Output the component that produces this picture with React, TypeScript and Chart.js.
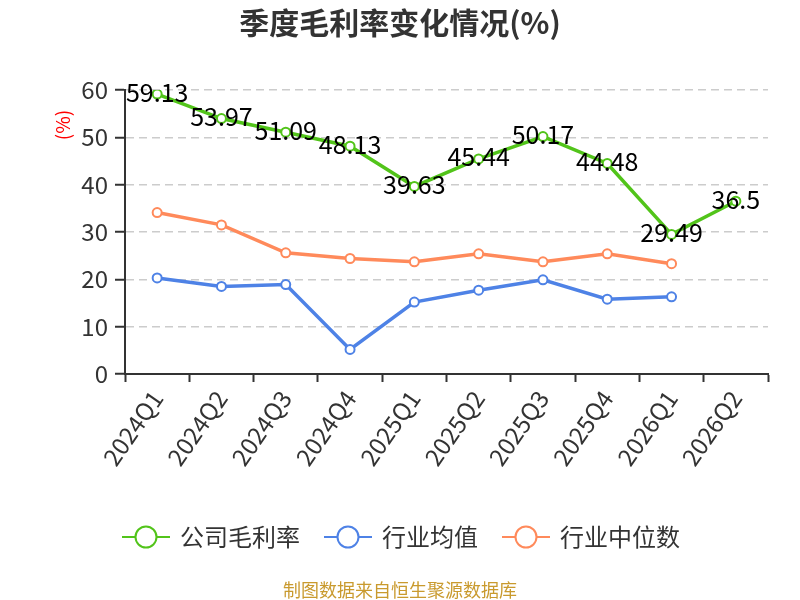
import { useEffect, useRef } from "react";
import { Chart, registerables } from "chart.js";

Chart.register(...registerables);

const FONT = '"Noto Sans CJK SC", "Noto Sans", sans-serif';

const quarters = [
  "2024Q1", "2024Q2", "2024Q3", "2024Q4", "2025Q1",
  "2025Q2", "2025Q3", "2025Q4", "2026Q1", "2026Q2",
];
const companyMargin = [59.13, 53.97, 51.09, 48.13, 39.63, 45.44, 50.17, 44.48, 29.49, 36.5];
const industryAvg = [20.3, 18.5, 18.9, 5.2, 15.2, 17.7, 19.9, 15.8, 16.3, null];
const industryMedian = [34.1, 31.5, 25.6, 24.4, 23.7, 25.4, 23.7, 25.4, 23.3, null];
const yTicks = { min: 0, max: 60, step: 10 };

const GREEN = "#52c41a";
const BLUE = "#4e82e6";
const ORANGE = "#ff8a5b";

function line(label: string, data: (number | null)[], color: string) {
  return {
    label,
    data,
    borderColor: color,
    backgroundColor: "#fff",
    borderWidth: 3.5,
    pointRadius: 4.5,
    pointBorderWidth: 2,
    pointBackgroundColor: "#fff",
    pointBorderColor: color,
    tension: 0,
    spanGaps: false,
  };
}

const overlay = {
  id: "overlay",
  afterDatasetsDraw(chart: any) {
    const ctx = chart.ctx;
    const meta = chart.getDatasetMeta(0);
    ctx.save();
    ctx.font = `25px ${FONT}`;
    ctx.fillStyle = "#000";
    ctx.textAlign = "center";
    ctx.textBaseline = "middle";
    meta.data.forEach((pt: any, i: number) => {
      ctx.fillText(String(companyMargin[i]), pt.x, pt.y - 2);
    });
    ctx.restore();
  },
  afterDraw(chart: any) {
    const ctx = chart.ctx;
    ctx.save();

    // title
    ctx.font = `bold 30px ${FONT}`;
    ctx.fillStyle = "#333";
    ctx.textAlign = "center";
    ctx.textBaseline = "middle";
    ctx.fillText("季度毛利率变化情况(%)", 400, 23);

    // y axis unit
    ctx.save();
    ctx.translate(63, 125);
    ctx.rotate(-Math.PI / 2);
    ctx.font = `19px ${FONT}`;
    ctx.fillStyle = "#ff0000";
    ctx.fillText("(%)", 0, 0);
    ctx.restore();

    // legend
    ctx.font = `24px ${FONT}`;
    ctx.textAlign = "left";
    const items = chart.data.datasets.map((d: any) => ({
      label: d.label,
      color: d.borderColor,
      w: 48 + 10 + ctx.measureText(d.label).width,
    }));
    const gap = 24;
    const total = items.reduce((s: number, it: any) => s + it.w, 0) + gap * (items.length - 1);
    let x = 401 - total / 2;
    const ly = 537;
    items.forEach((it: any) => {
      ctx.strokeStyle = it.color;
      ctx.lineWidth = 2;
      ctx.beginPath();
      ctx.moveTo(x, ly);
      ctx.lineTo(x + 48, ly);
      ctx.stroke();
      ctx.beginPath();
      ctx.arc(x + 24, ly, 10.5, 0, Math.PI * 2);
      ctx.fillStyle = "#fff";
      ctx.fill();
      ctx.stroke();
      ctx.fillStyle = "#333";
      ctx.fillText(it.label, x + 58, ly);
      x += it.w + gap;
    });

    // footer
    ctx.font = `18px ${FONT}`;
    ctx.textAlign = "center";
    ctx.fillStyle = "#c99a2e";
    ctx.fillText("制图数据来自恒生聚源数据库", 400, 590);

    ctx.restore();
  },
};

export default function App() {
  const canvasRef = useRef<HTMLCanvasElement>(null);
  const chartRef = useRef<Chart | null>(null);

  useEffect(() => {
    document.body.style.margin = "0";
    if (!canvasRef.current) return;
    chartRef.current?.destroy();

    chartRef.current = new Chart(canvasRef.current, {
      type: "line",
      data: {
        labels: quarters,
        datasets: [
          line("公司毛利率", companyMargin, GREEN),
          line("行业均值", industryAvg, BLUE),
          line("行业中位数", industryMedian, ORANGE),
        ] as any,
      },
      options: {
        responsive: false,
        animation: false,
        layout: { padding: { top: 90, right: 32, left: 0, bottom: 0 } },
        plugins: {
          legend: { display: false },
          title: { display: false },
          tooltip: { enabled: false },
        },
        scales: {
          x: {
            offset: true,
            afterFit: (s: any) => { s.height = 226; },
            grid: {
              display: true,
              drawOnChartArea: false,
              drawTicks: true,
              offset: true,
              tickLength: 8,
              tickColor: "#333",
              tickWidth: 2,
            },
            border: { display: true, color: "#333", width: 2 },
            ticks: {
              autoSkip: false,
              minRotation: 55,
              maxRotation: 55,
              color: "#333",
              padding: 3,
              font: { family: FONT, size: 24 },
            },
          },
          y: {
            min: yTicks.min,
            max: yTicks.max,
            afterFit: (s: any) => { s.width = 125; },
            grid: {
              color: (c: any) => (c.tick && c.tick.value === 0 ? "rgba(0,0,0,0)" : "#cccccc"),
              lineWidth: 1.5,
              tickLength: 10,
              tickColor: "#333",
              tickWidth: 2,
            },
            border: { display: true, color: "#333", width: 2, dash: [8, 5] },
            ticks: {
              stepSize: yTicks.step,
              color: "#333",
              padding: 7,
              font: { family: FONT, size: 24 },
            },
          },
        },
      },
      plugins: [overlay],
    });

    return () => { chartRef.current?.destroy(); };
  }, []);

  return (
    <div style={{ width: 800, height: 600 }}>
      <canvas ref={canvasRef} width={800} height={600} style={{ display: "block" }} />
    </div>
  );
}
